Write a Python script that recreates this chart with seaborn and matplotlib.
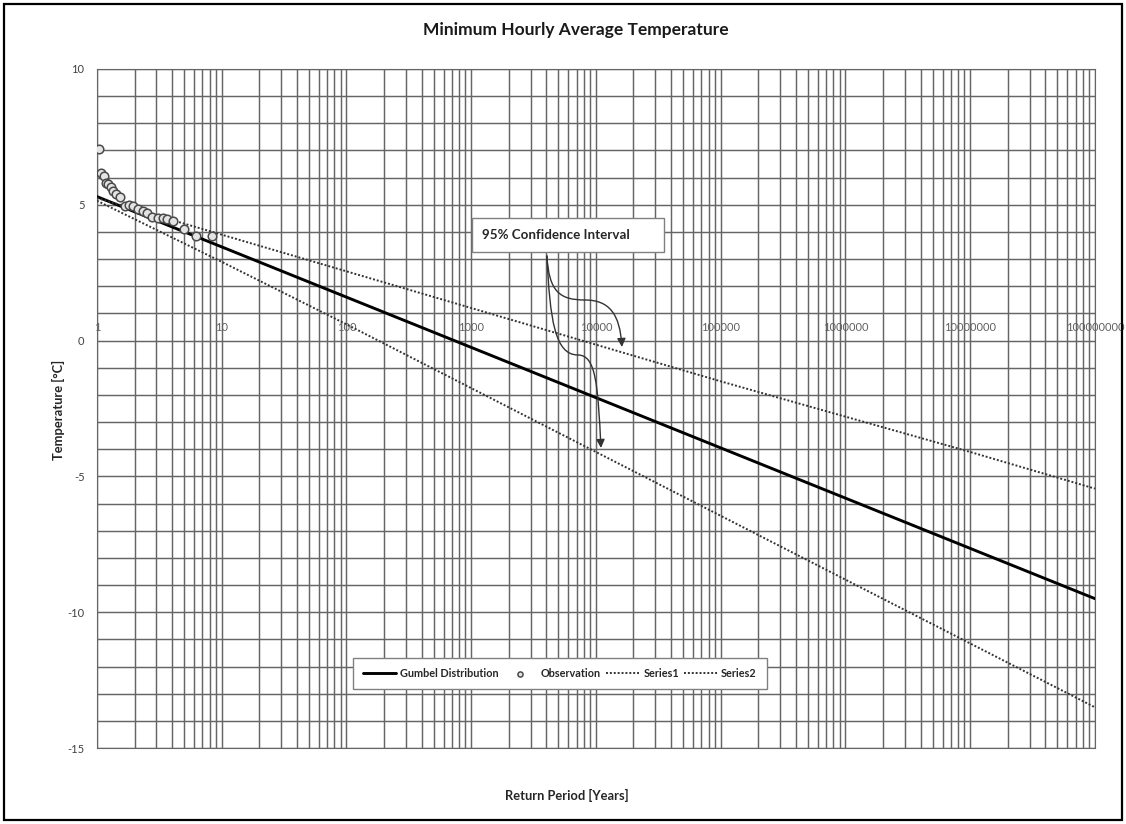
import numpy as np
import pandas as pd
import matplotlib
matplotlib.use('Agg')
import matplotlib.pyplot as plt
import seaborn as sns
from matplotlib.ticker import LogLocator, MultipleLocator, NullFormatter
from matplotlib.patches import Rectangle, FancyArrowPatch
from matplotlib.path import Path

# fitted curves, read at each decade of return period
return_period = [1, 10, 100, 1e3, 1e4, 1e5, 1e6, 1e7, 1e8]
gumbel = [5.3, 3.45, 1.6, -0.25, -2.1, -3.95, -5.8, -7.65, -9.5]
series1 = [5.25, 3.9, 2.55, 1.2, -0.15, -1.5, -2.8, -4.1, -5.45]
series2 = [5.15, 2.9, 0.6, -1.75, -4.1, -6.45, -8.8, -11.15, -13.5]

# observed points
obs_period = [1.04, 1.07, 1.14, 1.18, 1.23, 1.29, 1.35, 1.42, 1.53, 1.67, 1.82,
              1.95, 2.14, 2.35, 2.53, 2.74, 3.10, 3.40, 3.66, 4.09, 5.0, 6.2, 8.4]
obs_temp = [7.04, 6.16, 6.07, 5.79, 5.75, 5.64, 5.52, 5.40, 5.27, 4.95, 4.99,
            4.95, 4.83, 4.77, 4.69, 4.54, 4.50, 4.50, 4.46, 4.41, 4.10, 3.85, 3.85]

x_tick_labels = ['1', '10', '100', '1000', '10000', '100000', '1000000',
                 '10000000', '100000000']

fit = pd.DataFrame({'period': return_period, 'gumbel': gumbel,
                    'series1': series1, 'series2': series2})
obs = pd.DataFrame({'period': obs_period, 'temp': obs_temp})

sns.set_style('white')
plt.rcParams['font.family'] = ['Lato', 'DejaVu Sans']
plt.rcParams['axes.unicode_minus'] = False

fig = plt.figure(figsize=(11.26, 8.24), dpi=100)
ax = fig.add_axes([0.0861, 0.0922, 0.8863, 0.8241])
ax.set_xscale('log')

sns.lineplot(data=fit, x='period', y='gumbel', ax=ax, color='black', lw=2.1,
             label='Gumbel Distribution', zorder=3)
sns.scatterplot(data=obs, x='period', y='temp', ax=ax, marker='o', s=38,
                facecolor='#e4e4e4', edgecolor='#4a4a4a', linewidth=1.1,
                label='Observation', zorder=4)
sns.lineplot(data=fit, x='period', y='series1', ax=ax, color='#333333', lw=1.4,
             linestyle=(0, (1, 1)), label='Series1', zorder=3)
sns.lineplot(data=fit, x='period', y='series2', ax=ax, color='#333333', lw=1.4,
             linestyle=(0, (1, 1)), label='Series2', zorder=3)

ax.set_xlim(1, 1e8)
ax.set_ylim(-15, 10)
ax.xaxis.set_major_locator(LogLocator(base=10, numticks=20))
ax.xaxis.set_minor_locator(LogLocator(base=10, subs=np.arange(2, 10), numticks=20))
ax.xaxis.set_minor_formatter(NullFormatter())
ax.yaxis.set_major_locator(MultipleLocator(5))
ax.yaxis.set_minor_locator(MultipleLocator(1))
ax.grid(True, which='both', color='#666666', lw=1.05)
ax.set_axisbelow(True)
ax.tick_params(which='both', length=0)
ax.tick_params(axis='x', labelbottom=False)
ax.tick_params(axis='y', labelsize=8, labelcolor='#404040', pad=9)
for s in ax.spines.values():
    s.set_color('#666666')
ax.set_xlabel('')
ax.set_ylabel('')

# x labels sit inside the plot, just above the 0 line
for xv, lab in zip(return_period, x_tick_labels):
    ax.text(xv, 0.6186, lab, transform=ax.get_xaxis_transform(), ha='center',
            va='center', fontsize=8, color='#606060', zorder=2)

leg = ax.legend(loc='center', bbox_to_anchor=(0.464, 0.110), ncol=4,
                prop={'weight': 'bold', 'size': 7.8}, frameon=True, fancybox=False,
                edgecolor='#808080', framealpha=1, handlelength=3.0,
                handletextpad=0.4, columnspacing=0.5, borderpad=0.9,
                markerscale=0.6)
leg.get_frame().set_linewidth(1.0)


def px(x, y):
    # pixel position of the reference -> axes fraction
    return ((x - 97) / 998, (748 - y) / 679)


# confidence interval callout
bx0, by0 = px(472, 252)
bx1, by1 = px(664, 218)
ax.add_patch(Rectangle((bx0, by0), bx1 - bx0, by1 - by0, transform=ax.transAxes,
                       facecolor='white', edgecolor='#808080', lw=1.0, zorder=5))
tx, ty = px(482, 235)
ax.text(tx, ty, '95% Confidence Interval', transform=ax.transAxes, ha='left',
        va='center', fontsize=9.6, fontweight='bold', color='#262626', zorder=6)

curves = [
    [(547, 256), (549, 292), (560, 300), (585, 300),
     (610, 300), (620, 315), (622, 347)],
    [(547, 256), (550, 320), (555, 355), (578, 355),
     (596, 355), (598, 385), (601, 448)],
]
for pts in curves:
    verts = [px(*p) for p in pts]
    codes = [Path.MOVETO] + [Path.CURVE4] * 6
    arr = FancyArrowPatch(path=Path(verts, codes), transform=ax.transAxes,
                          arrowstyle='-|>,head_length=5,head_width=2.5',
                          color='#333333', lw=1.0, zorder=6)
    ax.add_patch(arr)

fig.text(0.5115, 0.9636, 'Minimum Hourly Average Temperature', ha='center',
         va='center', fontsize=12.5, fontweight='bold', color='#1a1a1a')
fig.text(0.5036, 0.0352, 'Return Period [Years]', ha='center', va='center',
         fontsize=9.3, fontweight='bold', color='#262626')
fig.text(0.0515, 0.5024, 'Temperature [°C]', ha='center', va='center',
         rotation=90, fontsize=9.3, fontweight='bold', color='#262626')

fig.patches.append(Rectangle((0.0036, 0.0049), 0.993, 0.990, transform=fig.transFigure,
                             fill=False, edgecolor='black', lw=1.6))

fig.savefig('out.png', dpi=100)
